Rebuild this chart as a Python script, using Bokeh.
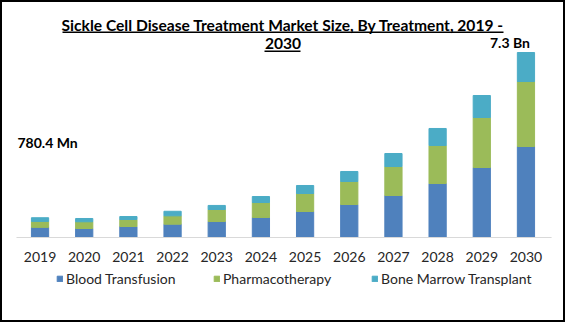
from bokeh.plotting import figure
from bokeh.models import Label, Legend, LegendItem, BoxAnnotation, Range1d, FactorRange
from bokeh.core.properties import value
from bokeh.embed import file_html
from bokeh.resources import INLINE

years = ["2019", "2020", "2021", "2022", "2023", "2024", "2025", "2026", "2027", "2028", "2029", "2030"]
blood_transfusion = [400, 355, 434, 525, 630, 790, 1026, 1302, 1657, 2131, 2762, 3590]
pharmacotherapy = [235, 265, 276, 330, 475, 590, 710, 908, 1144, 1500, 1973, 2565]
bone_marrow = [145, 130, 118, 180, 160, 237, 316, 395, 513, 671, 868, 1145]
series_names = ["Blood Transfusion", "Pharmacotherapy", "Bone Marrow Transplant"]
colors = ["#4F81BD", "#9BBB59", "#4BACC6"]
title_lines = ["Sickle Cell Disease Treatment Market Size, By Treatment, 2019 -", "2030"]
first_label = "780.4 Mn"
last_label = "7.3 Bn"

FONT = "Lato"
W, H = 565, 322

data = dict(year=years, bt=blood_transfusion, ph=pharmacotherapy, bm=bone_marrow)
last_total = blood_transfusion[-1] + pharmacotherapy[-1] + bone_marrow[-1]

# frame covers the whole canvas; value axis mapped so baseline sits at 237px
x_range = FactorRange(factors=years, range_padding=0.395, range_padding_units="absolute")
px_per_unit = 185.0 / last_total
y_range = Range1d(-(H - 237) / px_per_unit, 237 / px_per_unit)

p = figure(x_range=x_range, y_range=y_range, width=W, height=H,
           output_backend="svg", toolbar_location=None,
           x_axis_type=None, y_axis_type=None, min_border=0)
p.xgrid.visible = False
p.ygrid.visible = False
p.outline_line_color = "black"
p.outline_line_width = 3

rs = p.vbar_stack(["bt", "ph", "bm"], x="year", width=0.39, color=colors, source=data)

# category axis: baseline and labels
p.segment(x0=[-0.033], y0=[0], x1=[12.08], y1=[0], line_color="#D9D9D9", line_width=1)
p.text(x=years, y=[0] * len(years), text=years, y_offset=19,
       text_font=value(FONT), text_align="center", text_baseline="middle",
       text_font_size="14px", text_color="#262626")

# legends (one per item for precise placement)
leg_x = [56, 213, 371]
for r, name, lx in zip(rs, series_names, leg_x):
    lg = Legend(items=[LegendItem(label=name, renderers=[r])], location=(lx, 34),
                orientation="horizontal", padding=0, margin=0, border_line_color=None,
                background_fill_alpha=0, glyph_width=7, glyph_height=7, label_standoff=3,
                label_height=20,
                label_text_font=FONT, label_text_font_size="14px", label_text_color="#262626")
    p.add_layout(lg)

p.add_layout(Label(x=17, y=H - 142, x_units="screen", y_units="screen", text=first_label,
                   text_font=FONT, text_font_style="bold", text_font_size="14px",
                   text_baseline="middle", text_color="black"))
p.add_layout(Label(x=len(years) - 0.5, y=last_total,
                   x_offset=-16, y_offset=2, text=last_label,
                   text_font=FONT, text_font_style="bold", text_font_size="14px",
                   text_align="center", text_baseline="bottom", text_color="black"))

# title (two underlined lines)
p.add_layout(Label(x=282.5, y=H - 24, x_units="screen", y_units="screen", text=title_lines[0],
                   text_font=FONT, text_font_style="bold", text_font_size="15.6px",
                   text_align="center", text_baseline="middle", text_color="black"))
p.add_layout(Label(x=282.5, y=H - 42.7, x_units="screen", y_units="screen", text=title_lines[1],
                   text_font=FONT, text_font_style="bold", text_font_size="15.6px",
                   text_align="center", text_baseline="middle", text_color="black"))
for l, r_, yy in [(62, 503, 31), (264, 300, 50)]:
    p.add_layout(BoxAnnotation(left=l, right=r_, top=H - yy, bottom=H - yy - 1.5,
                               left_units="screen", right_units="screen",
                               bottom_units="screen", top_units="screen",
                               fill_color="black", fill_alpha=1, line_color=None))

open("out.html", "w").write(file_html(p, INLINE))
